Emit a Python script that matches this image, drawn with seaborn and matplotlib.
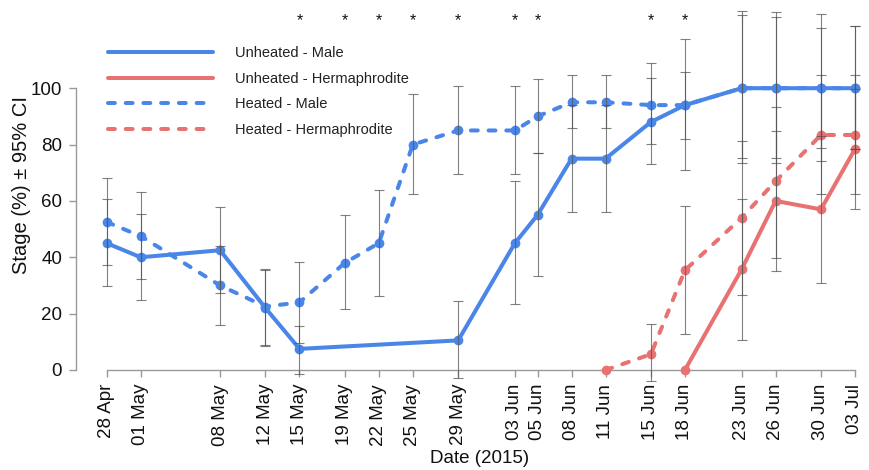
import numpy as np
import pandas as pd
import matplotlib
matplotlib.use("Agg")
import matplotlib.pyplot as plt
import matplotlib.dates as mdates
from matplotlib.lines import Line2D
import seaborn as sns

nan = np.nan

# ---------------- data ----------------
dates = ["2015-04-28", "2015-05-01", "2015-05-08", "2015-05-12", "2015-05-15",
         "2015-05-19", "2015-05-22", "2015-05-25", "2015-05-29", "2015-06-03",
         "2015-06-05", "2015-06-08", "2015-06-11", "2015-06-15", "2015-06-18",
         "2015-06-23", "2015-06-26", "2015-06-30", "2015-07-03"]
tick_labels = ["28 Apr", "01 May", "08 May", "12 May", "15 May", "19 May", "22 May",
               "25 May", "29 May", "03 Jun", "05 Jun", "08 Jun", "11 Jun", "15 Jun",
               "18 Jun", "23 Jun", "26 Jun", "30 Jun", "03 Jul"]

unheated_male = [45, 40, 42.5, 22, 7.5, nan, nan, nan, 10.5, 45, 55, 75, 75, 88, 94,
                 100, 100, 100, 100]
unheated_male_lo = [29.8, 25, 27.5, 9, -1.5, nan, nan, nan, -3, 23.3, 33.3, 56.2, 56.2,
                    73, 82, 75.1, 75.4, 74.2, 78.4]
unheated_male_hi = [60.7, 55.4, 58, 35.5, 15.7, nan, nan, nan, 24.5, 66.9, 77, 94, 94,
                    103.7, 105.8, 126, 125.4, 126.3, 121.9]

heated_male = [52.5, 47.5, 30, 22.5, 24, 38, 45, 80, 85, 85, 90, 95, 95, 94, 94,
               100, 100, 100, 100]
heated_male_lo = [37.1, 32.2, 16, 8.6, 9.7, 21.6, 26.3, 62.5, 69.5, 69.5, 76.9, 85.7,
                  85.7, 80.2, 70.8, 73.5, 73.4, 78.7, 78.4]
heated_male_hi = [68.1, 63.1, 43.9, 35.7, 38.3, 55.1, 64, 97.8, 100.8, 100.8, 103.4,
                  104.6, 104.6, 109, 117.5, 127.4, 127, 121.3, 121.9]

unheated_herm = [nan] * 14 + [0, 35.7, 60, 57, 78.4]
unheated_herm_lo = [nan] * 14 + [nan, 10.7, 35.3, 31, 57]
unheated_herm_hi = [nan] * 14 + [nan, 60.7, 84.8, 83, 99.8]

heated_herm = [nan] * 12 + [0, 5.6, 35.4, 54, 67, 83.4, 83.4]
heated_herm_lo = [nan] * 12 + [nan, -4, 12.7, 26.6, 39.9, 62.4, 62.4]
heated_herm_hi = [nan] * 12 + [nan, 16.3, 58.1, 81.4, 93.5, 104.7, 104.7]

star_dates = ["2015-05-15", "2015-05-19", "2015-05-22", "2015-05-25", "2015-05-29",
              "2015-06-03", "2015-06-05", "2015-06-15", "2015-06-18"]

series_names = ["Unheated - Male", "Unheated - Hermaphrodite",
                "Heated - Male", "Heated - Hermaphrodite"]

# ---------------- styling ----------------
BLUE = "#4a86e8"
RED = "#e87272"
palette = {"Unheated - Male": BLUE, "Unheated - Hermaphrodite": RED,
           "Heated - Male": BLUE, "Heated - Hermaphrodite": RED}
dash_pat = (1.7, 2.7)
dashes = {"Unheated - Male": "", "Unheated - Hermaphrodite": "",
          "Heated - Male": dash_pat, "Heated - Hermaphrodite": dash_pat}

sns.set_style("white")
plt.rcParams["font.family"] = ["Liberation Sans", "DejaVu Sans"]

x = pd.to_datetime(dates)
series = {
    "Unheated - Male": (unheated_male, unheated_male_lo, unheated_male_hi),
    "Unheated - Hermaphrodite": (unheated_herm, unheated_herm_lo, unheated_herm_hi),
    "Heated - Male": (heated_male, heated_male_lo, heated_male_hi),
    "Heated - Hermaphrodite": (heated_herm, heated_herm_lo, heated_herm_hi),
}
rows = []
for name, (vals, lo, hi) in series.items():
    for d, v, l, h in zip(x, vals, lo, hi):
        rows.append({"date": d, "value": v, "lo": l, "hi": h, "series": name})
df = pd.DataFrame(rows)

fig = plt.figure(figsize=(8.69, 4.70), dpi=100)
ax = fig.add_axes([76 / 869, 100 / 470, 786 / 869, 370 / 470])

draw_order = ["Heated - Male", "Heated - Hermaphrodite",
              "Unheated - Hermaphrodite", "Unheated - Male"]
LW = 2.9
for name in draw_order:
    sub = df[(df["series"] == name) & df["value"].notna()]
    sns.lineplot(data=sub, x="date", y="value", color=palette[name], ax=ax,
                 errorbar=None, lw=LW, marker="o", markersize=7,
                 markeredgewidth=0, dashes=False, legend=False,
                 solid_capstyle="round", dash_capstyle="round", clip_on=False,
                 zorder=3)
    line = ax.lines[-1]
    if dashes[name]:
        line.set_dashes(dashes[name])

# error bars
for name in series_names:
    sub = df[(df["series"] == name) & df["lo"].notna()]
    ax.errorbar(sub["date"], sub["value"],
                yerr=[sub["value"] - sub["lo"], sub["hi"] - sub["value"]],
                fmt="none", ecolor="#555555", elinewidth=0.8, capsize=3.5,
                capthick=0.8, alpha=0.75, clip_on=False, zorder=4)

# significance stars
for sd in pd.to_datetime(star_dates):
    ax.text(sd, 123.8, "*", ha="center", va="center", fontsize=11.5, color="#111111")

# axes limits and ticks
x0 = x[0] - pd.Timedelta(days=2.71)
x1 = x[-1] + pd.Timedelta(days=0.62)
ax.set_xlim(x0, x1)
ax.set_ylim(0, 131.3)
ax.set_xticks(x)
ax.set_xticklabels(tick_labels, rotation=90, fontsize=13.5, color="#111111")
ax.set_yticks([0, 20, 40, 60, 80, 100])
ax.set_yticklabels(["0", "20", "40", "60", "80", "100"], fontsize=13.5, color="#111111")
ax.tick_params(axis="both", direction="out", length=5, width=1, color="#999999",
               pad=5, bottom=True, left=True)

for s in ["top", "right"]:
    ax.spines[s].set_visible(False)
for s in ["left", "bottom"]:
    ax.spines[s].set_color("#999999")
    ax.spines[s].set_linewidth(1.0)
ax.spines["left"].set_bounds(0, 100)
ax.spines["bottom"].set_bounds(mdates.date2num(x[0]), mdates.date2num(x[-1]))

ax.set_xlabel("Date (2015)", fontsize=13.5, color="#111111", labelpad=3)
ax.xaxis.label.set_x((480 - 76) / 786)
ax.set_ylabel("Stage (%) ± 95% CI", fontsize=14.5, color="#111111", labelpad=0)

# legend
handles = []
for name in series_names:
    h = Line2D([], [], color=palette[name], lw=LW, solid_capstyle="round",
               dash_capstyle="round")
    if dashes[name]:
        h.set_dashes(dashes[name])
    handles.append(h)
leg = ax.legend(handles, series_names, loc="upper left",
                bbox_to_anchor=((108 - 76) / 786, 1 - 46 / 370),
                frameon=False, fontsize=10.5, handlelength=7.2, handletextpad=1.5,
                labelspacing=0.8, borderpad=0, borderaxespad=0)
for t in leg.get_texts():
    t.set_color("#222222")

fig.savefig("out.png", dpi=100)
